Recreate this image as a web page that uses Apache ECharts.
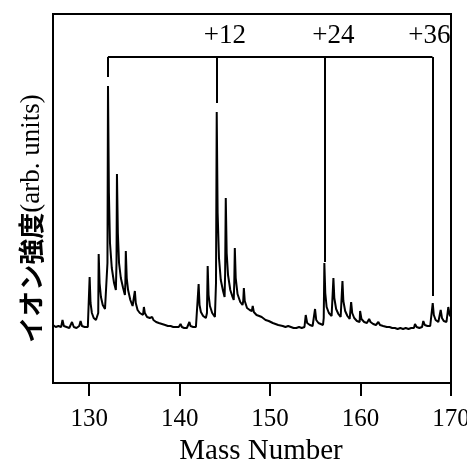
<!DOCTYPE html>
<html>
<head>
<meta charset="utf-8">
<script src="https://cdn.jsdelivr.net/npm/echarts@6/dist/echarts.min.js"></script>
<style>
  html, body { margin: 0; padding: 0; background: #fff; }
  #main { width: 467px; height: 459px; }
</style>
</head>
<body>
<div id="main"></div>
<script>
// tick labels on the mass axis
var xTicks = [130, 140, 150, 160, 170];

// spectrum: [mass number, intensity (arb. units)]
var spectrum = [
  [126.0, 58], [126.3, 56], [126.6, 57], [126.9, 56], [127.05, 63], [127.2, 57], [127.5, 56], [127.8, 55],
  [128.0, 57], [128.1, 61], [128.3, 56], [128.6, 55], [128.9, 57], [129.05, 62], [129.2, 57], [129.5, 56], [129.85, 56],
  // 130
  [129.95, 58], [130.05, 106], [130.15, 80], [130.3, 70], [130.5, 65], [130.75, 63], [130.9, 62],
  // 131
  [131.0, 70], [131.05, 129], [131.15, 100], [131.3, 86], [131.5, 78], [131.75, 74], [131.95, 73],
  // 132
  [132.02, 120], [132.08, 297], [132.18, 190], [132.3, 140], [132.5, 115], [132.75, 100], [132.95, 93],
  // 133
  [133.02, 120], [133.07, 209], [133.17, 150], [133.3, 120], [133.5, 105], [133.75, 95], [133.95, 88],
  // 134
  [134.0, 100], [134.05, 132], [134.15, 105], [134.3, 93], [134.55, 83], [134.8, 77], [134.95, 75],
  // 135
  [135.0, 78], [135.05, 92], [135.15, 80], [135.35, 73], [135.6, 70], [135.95, 68],
  // 136
  [136.05, 76], [136.15, 70], [136.4, 66], [136.7, 65], [136.9, 65],
  // 137, 138
  [136.97, 66], [137.1, 63], [137.4, 61], [137.7, 60], [137.85, 60],
  [137.92, 62], [138.05, 59], [138.4, 58], [138.7, 57], [139.0, 57], [139.3, 56], [139.6, 56], [139.9, 56],
  [140.1, 59], [140.25, 56], [140.5, 55], [140.8, 55], [141.0, 56], [141.08, 61], [141.2, 57], [141.5, 56],
  [141.8, 56], [142.0, 57],
  // 142
  [142.1, 99], [142.2, 78], [142.35, 71], [142.6, 67], [142.9, 65],
  // 143
  [143.02, 70], [143.1, 117], [143.2, 88], [143.35, 77], [143.6, 70], [143.9, 66],
  // 144
  [144.02, 100], [144.1, 271], [144.2, 170], [144.35, 125], [144.55, 103], [144.8, 92], [144.97, 86],
  // 145
  [145.03, 110], [145.1, 185], [145.2, 130], [145.35, 108], [145.6, 93], [145.85, 86], [145.98, 83],
  // 146
  [146.04, 100], [146.1, 135], [146.2, 105], [146.4, 89], [146.7, 81], [146.95, 78],
  // 147
  [147.03, 82], [147.1, 95], [147.2, 82], [147.45, 75], [147.75, 73], [147.98, 72],
  // 148, 149, 150
  [148.08, 77], [148.2, 71], [148.5, 68], [148.8, 67], [148.98, 68],
  [149.07, 66], [149.2, 64], [149.5, 63], [149.85, 62],
  [150.05, 63], [150.3, 60], [150.6, 59], [150.9, 58], [151.05, 59], [151.4, 57], [151.7, 56], [152.0, 57],
  [152.3, 56], [152.6, 55], [152.9, 55], [153.2, 56], [153.5, 55], [153.8, 56],
  // 154, 155
  [153.94, 68], [154.1, 60], [154.4, 58], [154.7, 57], [154.9, 58],
  [154.97, 74], [155.1, 63], [155.35, 60], [155.6, 59], [155.85, 58],
  // 156
  [155.93, 65], [156.0, 120], [156.1, 90], [156.25, 76], [156.5, 70], [156.8, 67], [156.95, 66],
  // 157
  [157.0, 105], [157.1, 85], [157.3, 74], [157.55, 69], [157.8, 66], [157.95, 65],
  // 158
  [158.0, 102], [158.1, 82], [158.3, 72], [158.55, 67], [158.8, 64], [158.92, 63],
  // 159, 160, 161, 162
  [158.96, 81], [159.08, 70], [159.3, 65], [159.6, 62], [159.9, 61],
  [159.95, 72], [160.1, 64], [160.4, 61], [160.7, 60], [160.9, 60],
  [160.95, 64], [161.1, 61], [161.4, 59], [161.7, 58], [161.9, 58],
  [161.97, 61], [162.15, 58], [162.5, 57], [162.9, 56], [163.0, 58], [163.2, 56], [163.5, 55], [163.8, 55],
  [164.1, 54], [164.4, 55], [164.7, 54], [165.0, 55], [165.3, 54], [165.6, 55], [165.9, 55],
  [166.02, 59], [166.2, 56], [166.5, 55], [166.8, 56], [166.94, 62], [167.1, 58], [167.4, 57], [167.7, 57], [167.9, 57],
  // 168, 169, 170
  [167.98, 80], [168.1, 68], [168.3, 63], [168.6, 61], [168.8, 60],
  [168.86, 73], [169.0, 65], [169.2, 62], [169.5, 61], [169.62, 62],
  [169.7, 76], [169.85, 68], [170.0, 66]
];

// +12 / +24 / +36 bracket
var bracketMass = [132.07, 144.05, 156.0, 167.95];
var bracketTop = 326;
var bracketEnd = [306, 280, 121, 87];
var shiftLabels = ['+12', '+24', '+36'];
var labelMass = [145.0, 157.0, 167.6];
var labelInt = 334;

var serif = "'Liberation Serif', 'Times New Roman', serif";

var bracketLines = [{ coords: [[bracketMass[0], bracketTop], [bracketMass[bracketMass.length - 1], bracketTop]] }];
for (var i = 0; i < bracketMass.length; i++) {
  bracketLines.push({ coords: [[bracketMass[i], bracketTop], [bracketMass[i], bracketEnd[i]]] });
}
var labelData = [];
for (var j = 0; j < shiftLabels.length; j++) {
  labelData.push({ name: shiftLabels[j], value: [labelMass[j], labelInt] });
}

var chart = echarts.init(document.getElementById('main'));
chart.setOption({
  animation: false,
  grid: {
    left: 53,
    right: 16,
    top: 14,
    bottom: 76,
    outerBoundsMode: 'none',
    containLabel: false,
    show: true,
    borderColor: '#000',
    borderWidth: 2
  },
  xAxis: {
    type: 'value',
    min: 126,
    max: 170,
    name: 'Mass Number',
    nameLocation: 'middle',
    nameGap: 44,
    nameTextStyle: {
      fontFamily: serif,
      fontSize: 29,
      color: '#000',
      padding: [0, 0, 0, 18]
    },
    axisLine: { show: true, onZero: false, lineStyle: { color: '#000', width: 2 } },
    axisTick: { show: true, inside: false, length: 13, customValues: xTicks, lineStyle: { color: '#000', width: 2 } },
    axisLabel: { show: true, customValues: xTicks, margin: 24, fontFamily: serif, fontSize: 25, color: '#000' },
    splitLine: { show: false }
  },
  yAxis: {
    type: 'value',
    min: 0,
    max: 369,
    name: '{cjk|イオン強度}{lat|(arb. units)}',
    nameLocation: 'middle',
    nameGap: 8,
    nameTextStyle: {
      color: '#000',
      padding: [0, 40, 0, 0],
      rich: {
        cjk: { fontFamily: "'Noto Sans CJK JP'", fontSize: 26, fontWeight: 'bold', color: '#000' },
        lat: { fontFamily: serif, fontSize: 27, color: '#000' }
      }
    },
    axisLine: { show: true, lineStyle: { color: '#000', width: 2 } },
    axisTick: { show: false },
    axisLabel: { show: false },
    splitLine: { show: false }
  },
  series: [
    {
      type: 'line',
      data: spectrum,
      showSymbol: false,
      lineStyle: { color: '#000', width: 2 },
      z: 3
    },
    {
      type: 'lines',
      coordinateSystem: 'cartesian2d',
      data: bracketLines,
      lineStyle: { color: '#000', width: 2, opacity: 1 },
      z: 4
    },
    {
      type: 'scatter',
      data: labelData,
      symbolSize: 0,
      itemStyle: { opacity: 1, color: '#000' },
      label: {
        show: true,
        position: 'top',
        distance: 0,
        formatter: '{b}',
        fontFamily: serif,
        fontSize: 27,
        color: '#000',
        textBorderWidth: 0
      },
      z: 5
    }
  ]
});
</script>
</body>
</html>
